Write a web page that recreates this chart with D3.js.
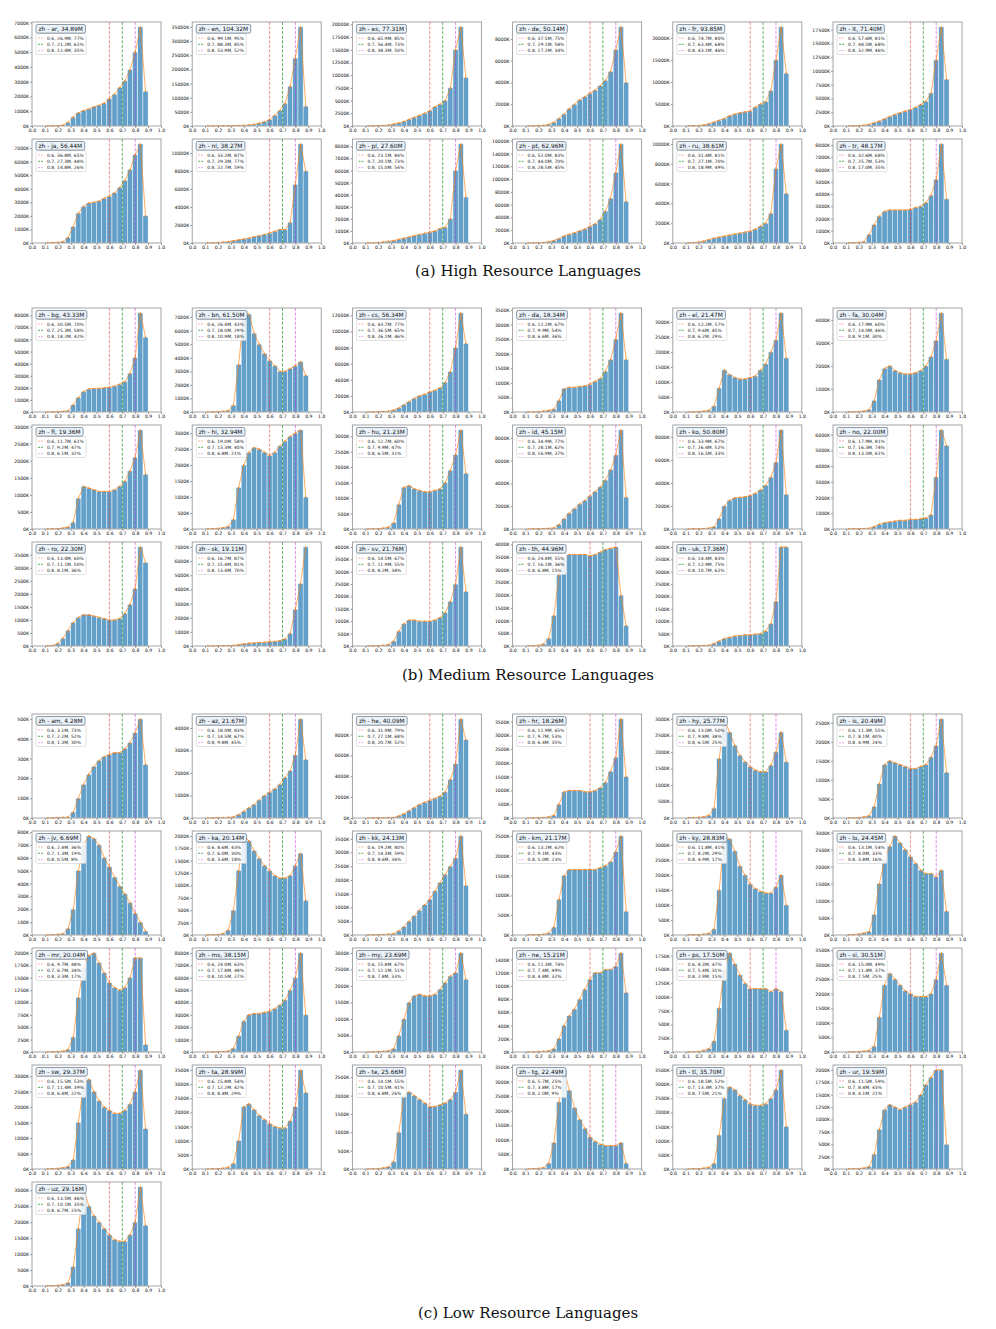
<!DOCTYPE html>
<html>
<head>
<meta charset="utf-8">
<script src="https://cdn.jsdelivr.net/npm/d3@7"></script>
<style>
  body { margin: 0; background: #fff; }
  svg { display: block; }
</style>
</head>
<body>
<svg id="chart" width="996" height="1329"></svg>
<script>
// histogram bins: 20 bins of width 0.04 from 0.10 to 0.90
const binStarts = [0.10, 0.14, 0.18, 0.22, 0.26, 0.30, 0.34, 0.38, 0.42, 0.46,
                   0.50, 0.54, 0.58, 0.62, 0.66, 0.70, 0.74, 0.78, 0.82, 0.86];
const binWidth = 0.04;
const xTicks = [0, 0.1, 0.2, 0.3, 0.4, 0.5, 0.6, 0.7, 0.8, 0.9, 1.0];
const thresholds = [0.6, 0.7, 0.8];

// ---- (a) high resource ----
const highLangs = ['ar', 'en', 'es', 'de', 'fr', 'it', 'ja', 'nl', 'pl', 'pt', 'ru', 'tr'];
const highTotals = ['34.89M', '104.32M', '77.31M', '50.14M', '93.85M', '71.40M',
                    '56.44M', '38.27M', '27.60M', '62.96M', '38.61M', '48.17M'];
const highKept = [
  ['26.9M, 77%', '21.2M, 61%', '12.4M, 35%'],
  ['99.1M, 95%', '88.3M, 85%', '53.9M, 52%'],
  ['65.9M, 85%', '56.4M, 73%', '38.3M, 50%'],
  ['37.5M, 75%', '29.1M, 58%', '17.2M, 34%'],
  ['74.7M, 80%', '63.4M, 68%', '43.1M, 46%'],
  ['57.6M, 81%', '48.5M, 68%', '32.9M, 46%'],
  ['36.8M, 65%', '27.3M, 48%', '14.8M, 26%'],
  ['33.2M, 87%', '29.3M, 77%', '22.7M, 59%'],
  ['23.1M, 84%', '20.1M, 73%', '15.0M, 54%'],
  ['52.0M, 83%', '44.0M, 70%', '28.5M, 45%'],
  ['31.4M, 81%', '27.1M, 70%', '18.9M, 49%'],
  ['32.6M, 68%', '25.7M, 53%', '17.0M, 35%']
];
// counts per bin, in K
const highCounts = [
  [5, 10, 20, 60, 250, 600, 900, 1050, 1150, 1300, 1400, 1550, 1850, 2150, 2600, 3050, 3800, 5000, 6700, 2350],
  [5, 10, 20, 30, 60, 100, 150, 250, 400, 600, 1000, 1500, 2300, 3800, 5500, 8000, 14000, 24000, 35000, 7000],
  [10, 20, 50, 100, 200, 400, 600, 900, 1300, 1700, 2100, 2500, 3000, 3800, 4300, 5000, 7500, 15000, 19500, 9500],
  [5, 10, 30, 60, 150, 350, 700, 1100, 1600, 2000, 2400, 2700, 3000, 3300, 3700, 4200, 5000, 7000, 9100, 4000],
  [20, 50, 100, 250, 500, 900, 1300, 1700, 2300, 2700, 3000, 3200, 3400, 4300, 5000, 5500, 8000, 15000, 22500, 12000],
  [10, 20, 60, 150, 300, 600, 900, 1300, 1700, 2100, 2400, 2700, 3000, 3400, 3900, 4500, 6000, 12000, 18000, 8500],
  [20, 30, 50, 100, 400, 1200, 2200, 2700, 2950, 3000, 3100, 3300, 3450, 3700, 4100, 4600, 5400, 6500, 7300, 2000],
  [10, 20, 50, 100, 150, 250, 350, 450, 550, 700, 800, 950, 1100, 1300, 1500, 1500, 2300, 6500, 11000, 8000],
  [10, 20, 40, 80, 150, 200, 300, 400, 500, 600, 700, 800, 900, 1000, 1200, 1300, 2000, 6000, 8200, 3800],
  [5, 10, 30, 80, 200, 400, 700, 1100, 1350, 1600, 1900, 2200, 2600, 3000, 3700, 5000, 7000, 11000, 15500, 6500],
  [20, 40, 100, 200, 350, 500, 600, 700, 800, 900, 1000, 1100, 1200, 1400, 1700, 2000, 3000, 7500, 10000, 5000],
  [10, 20, 50, 100, 700, 1500, 2200, 2600, 2700, 2700, 2700, 2700, 2750, 2900, 3000, 3300, 3900, 5200, 8100, 3600]
];

// ---- (b) medium resource ----
const mediumLangs = ['bg', 'bn', 'cs', 'da', 'el', 'fa', 'fi', 'hi', 'hu', 'id', 'ko', 'no',
                     'ro', 'sk', 'sv', 'th', 'uk'];
const mediumTotals = ['43.33M', '61.50M', '56.34M', '18.34M', '21.47M', '30.04M',
                      '19.36M', '32.94M', '21.23M', '45.15M', '50.80M', '22.00M',
                      '22.30M', '19.11M', '21.76M', '44.96M', '17.36M'];
const mediumKept = [
  ['30.5M, 70%', '25.3M, 58%', '18.2M, 42%'],
  ['26.4M, 43%', '18.0M, 29%', '10.9M, 18%'],
  ['43.7M, 77%', '36.5M, 65%', '26.1M, 46%'],
  ['12.2M, 67%', '9.9M, 54%', '6.6M, 36%'],
  ['12.2M, 57%', '9.6M, 45%', '6.2M, 29%'],
  ['17.9M, 60%', '14.0M, 46%', '9.1M, 30%'],
  ['11.7M, 61%', '9.2M, 47%', '6.1M, 32%'],
  ['19.0M, 58%', '13.3M, 40%', '6.8M, 21%'],
  ['12.7M, 60%', '9.9M, 47%', '6.5M, 31%'],
  ['34.9M, 77%', '28.1M, 62%', '16.9M, 37%'],
  ['33.9M, 67%', '26.4M, 52%', '16.5M, 33%'],
  ['17.9M, 81%', '16.3M, 74%', '13.5M, 61%'],
  ['13.4M, 60%', '11.1M, 50%', '8.1M, 36%'],
  ['16.7M, 87%', '15.4M, 81%', '13.4M, 70%'],
  ['14.5M, 67%', '11.9M, 55%', '8.2M, 38%'],
  ['24.8M, 55%', '16.1M, 36%', '6.8M, 15%'],
  ['14.4M, 83%', '12.9M, 75%', '10.7M, 62%']
];
const mediumCounts = [
  [5, 10, 20, 50, 100, 600, 1200, 1700, 1900, 1950, 1950, 2000, 2050, 2150, 2300, 2500, 3200, 4500, 8200, 6200],
  [5, 10, 20, 50, 100, 500, 3500, 7300, 7200, 5800, 5000, 4300, 3800, 3400, 3000, 3000, 3200, 3400, 3700, 2700],
  [5, 10, 30, 60, 100, 250, 500, 900, 1300, 1700, 2000, 2200, 2500, 2700, 3000, 3700, 5000, 8000, 12300, 8500],
  [2, 5, 10, 30, 60, 100, 400, 800, 850, 850, 870, 900, 950, 1050, 1150, 1400, 1800, 2500, 3400, 1800],
  [2, 5, 10, 30, 60, 200, 800, 1400, 1250, 1150, 1100, 1100, 1150, 1200, 1400, 1600, 2000, 2400, 3300, 1800],
  [5, 10, 20, 40, 100, 500, 1400, 1900, 2000, 1800, 1700, 1650, 1650, 1700, 1800, 2000, 2400, 3100, 4300, 2300],
  [2, 5, 10, 30, 60, 200, 900, 1250, 1200, 1150, 1100, 1100, 1100, 1150, 1250, 1400, 1700, 2100, 2900, 1600],
  [5, 10, 20, 40, 80, 300, 1300, 2000, 2400, 2550, 2500, 2400, 2300, 2400, 2600, 2750, 2900, 3000, 3100, 1000],
  [2, 5, 10, 30, 60, 200, 800, 1350, 1400, 1300, 1250, 1200, 1200, 1250, 1300, 1500, 1900, 2400, 3200, 1800],
  [5, 10, 20, 40, 60, 100, 400, 900, 1400, 1800, 2200, 2500, 2900, 3300, 3700, 4300, 5200, 6500, 8700, 2800],
  [5, 10, 20, 40, 80, 200, 900, 2000, 2500, 2700, 2750, 2800, 2900, 3100, 3400, 3800, 4500, 5800, 8600, 3000],
  [5, 10, 20, 30, 50, 150, 300, 400, 450, 500, 550, 550, 600, 600, 650, 700, 900, 3300, 6300, 5300],
  [5, 20, 100, 300, 600, 900, 1100, 1200, 1200, 1150, 1100, 1050, 1000, 1000, 1050, 1250, 1600, 2200, 3800, 3200],
  [2, 5, 10, 15, 20, 50, 100, 150, 200, 220, 250, 270, 300, 320, 380, 500, 900, 2600, 4400, 7000],
  [2, 5, 10, 30, 60, 200, 600, 900, 1050, 1050, 1000, 1000, 1000, 1050, 1150, 1350, 1800, 2500, 4000, 2200],
  [5, 10, 30, 80, 300, 1200, 2800, 3400, 3600, 3600, 3600, 3600, 3550, 3600, 3700, 3800, 3850, 3900, 2000, 800],
  [2, 5, 10, 20, 30, 100, 200, 300, 350, 400, 420, 450, 450, 480, 500, 600, 900, 1800, 4000, 4000]
];

// ---- (c) low resource ----
const lowLangs = ['am', 'az', 'he', 'hr', 'hy', 'is', 'jv', 'ka', 'kk', 'km', 'ky', 'lo',
                  'mr', 'ms', 'my', 'ne', 'ps', 'si', 'sw', 'ta', 'te', 'tg', 'tl', 'ur', 'uz'];
const lowTotals = ['4.28M', '21.67M', '40.09M', '18.26M', '25.77M', '20.49M',
                   '6.69M', '20.14M', '24.13M', '21.17M', '28.83M', '24.45M',
                   '20.04M', '38.15M', '23.69M', '15.21M', '17.50M', '30.51M',
                   '29.37M', '28.99M', '25.66M', '22.49M', '35.70M', '19.59M', '29.16M'];
const lowKept = [
  ['3.1M, 73%', '2.2M, 52%', '1.3M, 30%'],
  ['18.0M, 83%', '14.5M, 67%', '9.8M, 45%'],
  ['31.9M, 79%', '27.1M, 68%', '20.7M, 52%'],
  ['11.9M, 65%', '9.7M, 53%', '6.4M, 35%'],
  ['13.0M, 50%', '9.8M, 38%', '6.5M, 25%'],
  ['11.3M, 55%', '8.1M, 40%', '4.9M, 24%'],
  ['2.4M, 36%', '1.3M, 19%', '0.5M, 8%'],
  ['8.6M, 43%', '6.0M, 30%', '3.6M, 18%'],
  ['19.2M, 80%', '14.3M, 59%', '8.6M, 36%'],
  ['13.2M, 62%', '9.1M, 43%', '5.0M, 23%'],
  ['11.8M, 41%', '8.2M, 29%', '4.9M, 17%'],
  ['13.1M, 54%', '8.0M, 33%', '3.8M, 16%'],
  ['9.7M, 48%', '6.7M, 34%', '3.3M, 17%'],
  ['24.0M, 63%', '17.8M, 48%', '10.5M, 27%'],
  ['15.8M, 67%', '12.1M, 51%', '7.8M, 33%'],
  ['11.3M, 74%', '7.4M, 49%', '4.8M, 32%'],
  ['8.3M, 47%', '5.4M, 31%', '2.9M, 15%'],
  ['15.0M, 49%', '11.4M, 37%', '7.5M, 25%'],
  ['15.5M, 53%', '11.4M, 39%', '6.4M, 22%'],
  ['15.8M, 54%', '12.2M, 42%', '8.4M, 29%'],
  ['14.1M, 55%', '10.5M, 41%', '6.8M, 26%'],
  ['5.7M, 25%', '3.8M, 17%', '2.0M, 9%'],
  ['18.5M, 52%', '13.3M, 37%', '7.5M, 21%'],
  ['11.5M, 59%', '8.4M, 43%', '4.1M, 21%'],
  ['13.5M, 46%', '10.1M, 35%', '6.7M, 23%']
];
const lowCounts = [
  [0, 1, 2, 3, 5, 30, 100, 170, 220, 260, 290, 310, 320, 330, 330, 350, 380, 430, 500, 270],
  [2, 5, 10, 20, 30, 50, 150, 300, 450, 600, 800, 1000, 1150, 1300, 1500, 1800, 2100, 2800, 4400, 2600],
  [2, 5, 10, 20, 30, 50, 200, 400, 700, 1000, 1300, 1500, 1700, 1900, 2100, 2500, 3700, 5200, 9500, 7500],
  [2, 5, 10, 20, 40, 100, 500, 950, 1000, 1000, 1000, 950, 950, 1000, 1100, 1300, 1700, 2200, 3600, 1500],
  [5, 10, 20, 40, 80, 300, 1800, 3000, 2600, 2200, 1900, 1700, 1550, 1450, 1400, 1400, 1600, 2000, 2600, 1700],
  [2, 5, 10, 30, 60, 300, 900, 1400, 1500, 1450, 1400, 1350, 1300, 1300, 1350, 1400, 1600, 1900, 2600, 1200],
  [0, 2, 5, 10, 50, 200, 500, 700, 770, 750, 700, 600, 530, 450, 380, 320, 250, 170, 100, 30],
  [2, 5, 10, 30, 100, 500, 1300, 2000, 1900, 1700, 1550, 1400, 1300, 1200, 1150, 1150, 1200, 1400, 1650, 700],
  [2, 5, 10, 20, 30, 50, 150, 300, 500, 700, 900, 1100, 1300, 1600, 1900, 2200, 2500, 2800, 3600, 1800],
  [2, 5, 10, 20, 50, 200, 900, 1500, 1650, 1650, 1650, 1650, 1650, 1650, 1700, 1750, 1850, 2100, 2500, 600],
  [2, 5, 10, 30, 60, 200, 1500, 3300, 3200, 2800, 2300, 2000, 1700, 1550, 1450, 1400, 1400, 1600, 2000, 1000],
  [5, 10, 30, 60, 100, 600, 1500, 2200, 2600, 2900, 2700, 2500, 2300, 2100, 1900, 1800, 1800, 1700, 1900, 700],
  [2, 5, 10, 20, 50, 300, 1100, 1700, 1950, 2000, 1800, 1600, 1400, 1300, 1250, 1300, 1500, 1900, 1900, 150],
  [5, 10, 20, 40, 80, 300, 1300, 2500, 3000, 3100, 3100, 3200, 3300, 3500, 3800, 4200, 5000, 6000, 8000, 3000],
  [2, 5, 10, 20, 40, 100, 500, 1000, 1500, 1700, 1750, 1700, 1700, 1750, 1900, 2100, 2300, 2400, 3000, 2200],
  [1, 2, 5, 10, 20, 50, 200, 400, 550, 650, 800, 950, 1100, 1200, 1200, 1250, 1250, 1300, 1500, 900],
  [2, 5, 10, 30, 60, 200, 800, 1500, 1800, 1600, 1400, 1250, 1150, 1150, 1150, 1150, 1100, 1150, 1100, 400],
  [2, 5, 10, 30, 60, 200, 1200, 2300, 2700, 2500, 2300, 2100, 2000, 1900, 1900, 1900, 2000, 2500, 3400, 2300],
  [5, 10, 20, 40, 80, 300, 1500, 2700, 2900, 2500, 2200, 2000, 1900, 1800, 1800, 1900, 2100, 2500, 3200, 1300],
  [2, 5, 10, 30, 60, 200, 1000, 2200, 2300, 2100, 1900, 1750, 1600, 1500, 1450, 1450, 1700, 2200, 3500, 2700],
  [2, 5, 10, 30, 60, 200, 1000, 2000, 2100, 2000, 1900, 1800, 1700, 1700, 1750, 1800, 1900, 2100, 2700, 1500],
  [5, 10, 20, 50, 200, 900, 2300, 3400, 2700, 2100, 1700, 1400, 1100, 950, 850, 800, 800, 800, 900, 200],
  [2, 5, 10, 30, 60, 200, 1200, 2500, 2900, 2800, 2600, 2450, 2300, 2250, 2250, 2300, 2500, 2800, 3500, 1500],
  [2, 5, 10, 20, 50, 300, 800, 1200, 1300, 1250, 1200, 1250, 1300, 1350, 1500, 1700, 1850, 2000, 2000, 500],
  [5, 10, 20, 40, 100, 600, 1800, 3100, 2500, 2200, 2000, 1800, 1600, 1450, 1400, 1400, 1600, 2000, 3100, 1900]
];

const groups = [
  { langs: highLangs, totals: highTotals, kept: highKept, counts: highCounts,
    rowTops: [22, 139], caption: '(a) High Resource Languages', captionY: 276 },
  { langs: mediumLangs, totals: mediumTotals, kept: mediumKept, counts: mediumCounts,
    rowTops: [308, 425, 542], caption: '(b) Medium Resource Languages', captionY: 680 },
  { langs: lowLangs, totals: lowTotals, kept: lowKept, counts: lowCounts,
    rowTops: [714, 831, 948, 1065, 1182], caption: '(c) Low Resource Languages', captionY: 1318 }
];

const W = 129, H = 104;
const colLeft = c => 32 + 160.2 * c;
const lineColors = ['rgba(230,40,40,0.6)', 'rgba(20,140,20,0.75)', 'rgba(200,40,210,0.6)'];
const swatchColors = ['rgba(240,60,60,0.45)', 'rgba(20,140,20,0.8)', 'rgba(210,60,220,0.45)'];

function translate(x, y) {
  return `translate(${x}, ${y})`;
}

// matplotlib-like MaxNLocator(nbins=9, steps=[1,2,2.5,5,10])
function yTickValues(ymax) {
  const raw = ymax / 9;
  const mag = Math.pow(10, Math.floor(Math.log10(raw)));
  let step = 10 * mag;
  for (const s of [1, 2, 2.5, 5, 10]) {
    if (s * mag >= raw - 1e-9) { step = s * mag; break; }
  }
  return d3.range(0, ymax + 1e-9, step);
}

const svg = d3.select('#chart');

function drawPanel(left, top, lang, total, kept, counts) {
  const g = svg.append('g').attr('transform', translate(left, top));
  const ymax = d3.max(counts) * 1.05;
  const x = d3.scaleLinear().domain([0, 1]).range([0, W]);
  const y = d3.scaleLinear().domain([0, ymax]).range([H, 0]);
  const bins = binStarts.map((b, i) => ({ b, v: counts[i] }));

  g.selectAll('rect.bar')
    .data(bins)
    .enter().append('rect')
    .attr('class', 'bar')
    .attr('x', d => x(d.b))
    .attr('width', x(binWidth) - x(0))
    .attr('y', d => y(d.v))
    .attr('height', d => H - y(d.v))
    .attr('fill', '#1f77b4')
    .attr('fill-opacity', 0.7)
    .attr('stroke', '#fff')
    .attr('stroke-width', 0.45);

  thresholds.forEach((t, i) => {
    g.append('line')
      .attr('x1', x(t)).attr('x2', x(t))
      .attr('y1', 0).attr('y2', H)
      .attr('stroke', lineColors[i])
      .attr('stroke-width', 0.9)
      .attr('stroke-dasharray', '3,1.6');
  });

  const line = d3.line()
    .x(d => x(d.b + binWidth / 2))
    .y(d => y(d.v));
  g.append('path')
    .attr('d', line(bins))
    .attr('fill', 'none')
    .attr('stroke', '#ff7f0e')
    .attr('stroke-opacity', 0.8)
    .attr('stroke-width', 0.8);
  g.selectAll('circle.pt')
    .data(bins)
    .enter().append('circle')
    .attr('class', 'pt')
    .attr('cx', d => x(d.b + binWidth / 2))
    .attr('cy', d => y(d.v))
    .attr('r', 0.8)
    .attr('fill', '#ff7f0e');

  // axes
  const yAxis = g.append('g')
    .attr('class', 'yaxis')
    .call(d3.axisLeft(y)
      .tickValues(yTickValues(ymax))
      .tickSize(2)
      .tickPadding(1)
      .tickFormat(d => `${Math.round(d)}K`));
  const xAxis = g.append('g')
    .attr('class', 'xaxis')
    .attr('transform', translate(0, H))
    .call(d3.axisBottom(x)
      .tickValues(xTicks)
      .tickSize(2)
      .tickPadding(1)
      .tickFormat(d3.format('.1f')));
  [yAxis, xAxis].forEach(a => {
    a.select('.domain').remove();
    a.selectAll('.tick line').attr('stroke', '#333').attr('stroke-width', 0.5);
    a.selectAll('.tick text')
      .attr('font-family', 'DejaVu Sans, sans-serif')
      .attr('font-size', 4.6)
      .attr('fill', '#111');
  });

  g.append('rect')
    .attr('width', W).attr('height', H)
    .attr('fill', 'none')
    .attr('stroke', '#9a9a9a')
    .attr('stroke-width', 0.9);

  // legend
  const lg = g.append('g').attr('transform', translate(4, 2.5));
  lg.append('rect')
    .attr('x', 0).attr('y', 9)
    .attr('width', 50).attr('height', 21)
    .attr('rx', 1.5)
    .attr('fill', 'rgba(255,255,255,0.85)')
    .attr('stroke', '#cfcfcf')
    .attr('stroke-width', 0.6);
  const title = lg.append('text')
    .attr('x', 2.5).attr('y', 6.4)
    .attr('font-family', 'DejaVu Sans, sans-serif')
    .attr('font-size', 5.9)
    .attr('fill', '#111')
    .text(`zh - ${lang}, ${total}`);
  const tw = title.node().getComputedTextLength();
  lg.insert('rect', 'text')
    .attr('x', 0).attr('y', 0)
    .attr('width', tw + 5).attr('height', 8.6)
    .attr('rx', 1.6)
    .attr('fill', '#eaf2fa')
    .attr('stroke', '#4a5a6a')
    .attr('stroke-width', 0.6);
  thresholds.forEach((t, i) => {
    const yy = 13.5 + i * 6.3;
    lg.append('line')
      .attr('x1', 2).attr('x2', 8)
      .attr('y1', yy).attr('y2', yy)
      .attr('stroke', swatchColors[i])
      .attr('stroke-width', 0.9)
      .attr('stroke-dasharray', '2,1');
    lg.append('text')
      .attr('x', 11).attr('y', yy + 1.6)
      .attr('font-family', 'DejaVu Sans, sans-serif')
      .attr('font-size', 4.5)
      .attr('fill', '#222')
      .text(`${t.toFixed(1)}, ${kept[i]}`);
  });
}

groups.forEach(grp => {
  grp.langs.forEach((lang, i) => {
    const row = Math.floor(i / 6), col = i % 6;
    drawPanel(colLeft(col), grp.rowTops[row], lang, grp.totals[i], grp.kept[i], grp.counts[i]);
  });
  svg.append('text')
    .attr('x', 528).attr('y', grp.captionY)
    .attr('text-anchor', 'middle')
    .attr('font-family', 'DejaVu Serif, serif')
    .attr('font-size', 15)
    .attr('fill', '#111')
    .text(grp.caption);
});
</script>
</body>
</html>
